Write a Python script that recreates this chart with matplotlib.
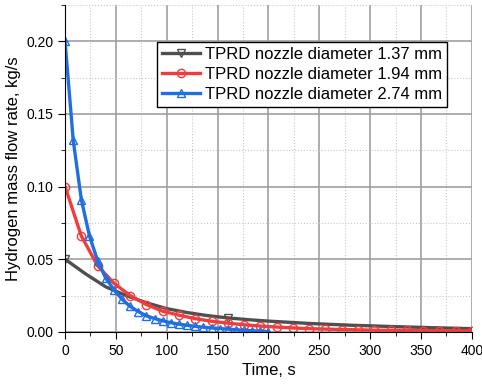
import matplotlib.pyplot as plt
from matplotlib.ticker import MultipleLocator

plt.rcParams['font.family'] = ['Liberation Sans', 'DejaVu Sans']

# 1.37 mm nozzle
t_137 = [0, 20, 40, 60, 80, 100, 120, 140, 160, 180, 200, 240, 280, 320, 360, 400]
m_137 = [0.050, 0.040, 0.031, 0.025, 0.020, 0.016, 0.0133, 0.0112, 0.0096, 0.0084,
         0.0074, 0.0058, 0.0046, 0.0037, 0.0029, 0.0022]

# 1.94 mm nozzle
t_194 = [0, 16, 32, 48, 64, 80, 96, 112, 128, 144, 160, 176, 192, 208, 224, 240,
         256, 272, 288, 304, 320, 336, 352, 368, 384, 400]
m_194 = [0.100, 0.066, 0.0455, 0.0335, 0.0250, 0.0188, 0.0142, 0.0115, 0.0091, 0.0073,
         0.0060, 0.0049, 0.0040, 0.0033, 0.0027, 0.0022, 0.0019, 0.0016, 0.0014, 0.0012,
         0.0011, 0.0010, 0.0009, 0.0008, 0.0007, 0.0006]

# 2.74 mm nozzle
t_274 = [0, 8, 16, 24, 32, 40, 48, 56, 64, 72, 80, 88, 96, 104, 112, 120, 128, 136,
         144, 152, 160, 168, 176, 184, 192, 200]
m_274 = [0.200, 0.132, 0.091, 0.066, 0.049, 0.037, 0.029, 0.0225, 0.0175, 0.014,
         0.011, 0.0092, 0.0076, 0.0063, 0.0053, 0.0045, 0.0038, 0.0032, 0.0027, 0.0023,
         0.0019, 0.0015, 0.0011, 0.0008, 0.0005, 0.0002]

labels = ['TPRD nozzle diameter 1.37 mm', 'TPRD nozzle diameter 1.94 mm',
          'TPRD nozzle diameter 2.74 mm']

fig = plt.figure(figsize=(4.82, 3.85), dpi=100)
ax = fig.add_axes([0.135, 0.138, 0.844, 0.849])

ax.plot(t_137, m_137, color='#4f4f4f', lw=2.4, marker='v', ms=6, mfc='none',
        mew=1, markevery=8, label=labels[0])
ax.plot(t_194, m_194, color='#f03c3c', lw=2.4, marker='o', ms=6, mfc='none',
        mew=1, label=labels[1])
ax.plot(t_274, m_274, color='#1f6fe0', lw=2.4, marker='^', ms=6, mfc='none',
        mew=1, label=labels[2])

ax.set_xlim(0, 400)
ax.set_ylim(0, 0.225)
ax.xaxis.set_major_locator(MultipleLocator(50))
ax.xaxis.set_minor_locator(MultipleLocator(25))
ax.yaxis.set_major_locator(MultipleLocator(0.05))
ax.yaxis.set_minor_locator(MultipleLocator(0.025))
ax.yaxis.set_major_formatter(plt.FormatStrFormatter('%.2f'))

ax.grid(which='major', color='#a0a0a0', lw=1.2)
ax.grid(which='minor', color='#c8c8c8', lw=0.8, ls=':')
ax.set_axisbelow(True)

ax.spines['top'].set_visible(False)
ax.spines['right'].set_visible(False)
ax.tick_params(which='major', direction='out', length=5, labelsize=10)
ax.tick_params(which='minor', direction='out', length=3)

ax.set_xlabel('Time, s', fontsize=12)
ax.set_ylabel('Hydrogen mass flow rate, kg/s', fontsize=12)

leg = ax.legend(loc='upper left', bbox_to_anchor=(0.226, 0.887), fontsize=12,
                frameon=True, fancybox=False, edgecolor='black', framealpha=1,
                borderaxespad=0, handlelength=2.3, labelspacing=0.3,
                borderpad=0.3, handletextpad=0.3)
leg.get_frame().set_linewidth(1)

plt.savefig('out.png')
